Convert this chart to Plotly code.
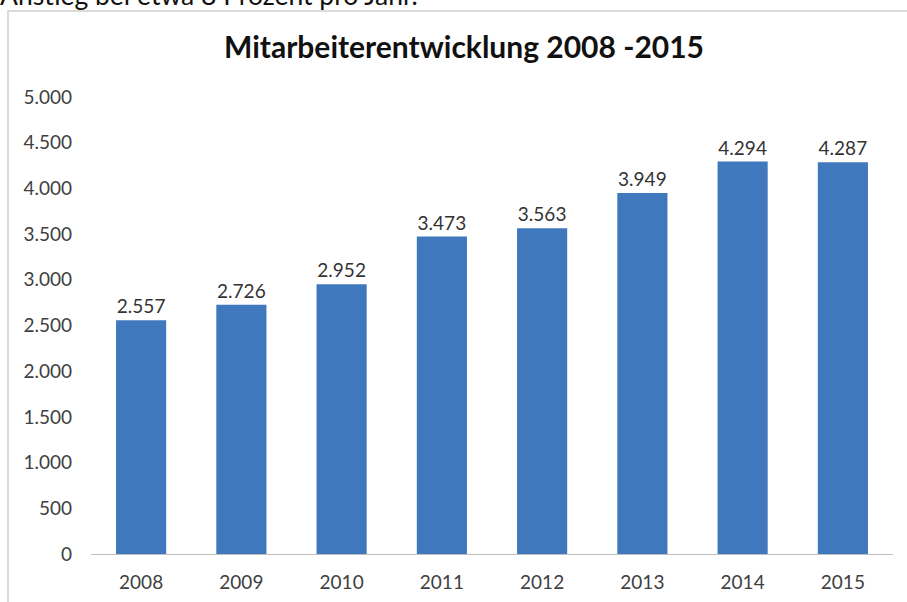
import plotly.graph_objects as go

years = ["2008", "2009", "2010", "2011", "2012", "2013", "2014", "2015"]
employees = [2557, 2726, 2952, 3473, 3563, 3949, 4294, 4287]
y_ticks = [0, 500, 1000, 1500, 2000, 2500, 3000, 3500, 4000, 4500, 5000]
title_text = "Mitarbeiterentwicklung 2008 -2015"
top_text = "Anstieg bei etwa 8 Prozent pro Jahr."

W, H = 907, 602
L, R, T, B = 91, 14, 97, 48
pw, ph = W - L - R, H - T - B

def px_x(p):
    return (p - L) / pw

def px_y(p):
    return (H - B - p) / ph

FONT = "Lato, Carlito, 'Open Sans', sans-serif"

fig = go.Figure(go.Bar(
    x=years, y=employees,
    marker=dict(color="#3F78BD", line=dict(width=0)),
    text=employees, texttemplate="%{y:,d}", textposition="outside",
    textfont=dict(size=19, color="#333333", family=FONT),
    cliponaxis=False,
))

fig.update_layout(
    width=W, height=H,
    margin=dict(l=L, r=R, t=T, b=B),
    paper_bgcolor="white", plot_bgcolor="white",
    separators=",.",
    bargap=0.5,
    showlegend=False,
    font=dict(family=FONT, color="#404040"),
    annotations=[
        dict(text="<b>" + title_text + "</b>", xref="paper", yref="paper",
             x=px_x(464), y=px_y(46), xanchor="center", yanchor="middle",
             showarrow=False, font=dict(size=30, color="#111111", family=FONT)),
        dict(text=top_text, xref="paper", yref="paper",
             x=px_x(-1), y=px_y(12), xanchor="left", yanchor="bottom",
             showarrow=False, borderpad=0,
             font=dict(size=26.5, color="#111111", family=FONT)),
    ],
    shapes=[
        dict(type="rect", xref="paper", yref="paper",
             x0=px_x(8), x1=px_x(920), y0=px_y(610), y1=px_y(11),
             line=dict(color="#D0D0D0", width=1.5), layer="below"),
    ],
)

fig.update_xaxes(
    type="category", showgrid=False, showline=True, linecolor="#BFBFBF",
    linewidth=1, ticks="", tickfont=dict(size=19, color="#404040"),
    ticklabelstandoff=11, automargin=False,
)
fig.update_yaxes(
    range=[0, 5000], tickvals=y_ticks, tickformat=",d", showgrid=False,
    showline=False, zeroline=False, ticks="",
    tickfont=dict(size=19, color="#404040"), ticklabelstandoff=18,
    automargin=False,
)

fig.write_html("out.html")
